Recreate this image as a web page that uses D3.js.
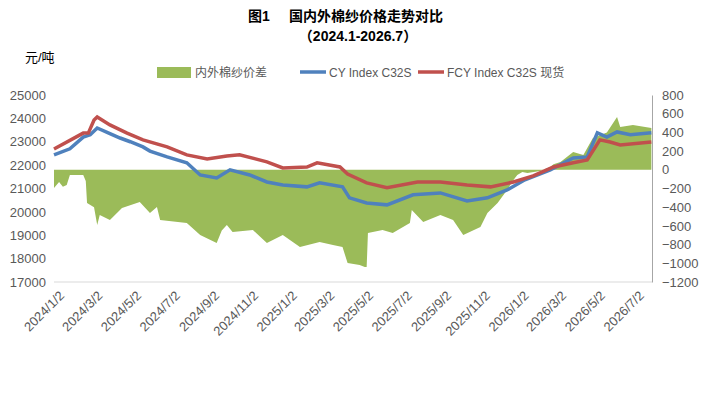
<!DOCTYPE html>
<html><head><meta charset="utf-8">
<script src="https://cdn.jsdelivr.net/npm/d3@7"></script>
<style>body{margin:0;background:#fff;font-family:"Liberation Sans","Noto Sans CJK SC",sans-serif}</style>
</head><body><svg id="c" width="709" height="408"></svg>
<script>
const cyDates=["2024-01-02","2024-01-27","2024-02-17","2024-02-28","2024-03-10","2024-03-30","2024-04-15","2024-05-01","2024-05-21","2024-06-01","2024-06-28","2024-07-29","2024-08-19","2024-09-14","2024-10-05","2024-11-05","2024-12-02","2024-12-27","2025-02-03","2025-02-23","2025-03-31","2025-04-11","2025-05-08","2025-06-09","2025-07-20","2025-09-01","2025-10-13","2025-11-14","2025-12-15","2026-01-12","2026-02-21","2026-03-29","2026-04-20","2026-05-06","2026-05-21","2026-06-06","2026-06-27","2026-07-30"];
const cyVals=[22440,22700,23200,23300,23590,23350,23160,23000,22780,22600,22350,22100,21580,21450,21800,21580,21280,21150,21070,21240,21070,20600,20380,20300,20730,20810,20470,20600,20940,21370,21800,22310,22350,23380,23200,23420,23300,23380];
const fcyDates=["2024-01-02","2024-02-17","2024-02-25","2024-03-05","2024-03-10","2024-03-30","2024-04-26","2024-05-21","2024-06-28","2024-07-29","2024-08-30","2024-09-30","2024-10-20","2024-12-02","2024-12-27","2025-02-03","2025-02-19","2025-03-27","2025-04-08","2025-05-08","2025-06-09","2025-07-27","2025-09-01","2025-10-13","2025-11-19","2025-12-25","2026-01-25","2026-02-26","2026-03-29","2026-04-20","2026-05-10","2026-05-26","2026-06-11","2026-07-30"];
const fcyVals=[22690,23370,23370,23930,24060,23720,23370,23080,22780,22440,22260,22390,22440,22140,21880,21920,22100,21920,21620,21240,21030,21280,21280,21150,21070,21280,21540,21920,22100,22220,23080,22990,22860,22990];
const diffDates=["2024-01-02","2024-01-10","2024-01-16","2024-01-22","2024-01-27","2024-02-17","2024-02-21","2024-02-23","2024-03-05","2024-03-10","2024-03-14","2024-03-30","2024-04-18","2024-05-16","2024-06-01","2024-06-12","2024-06-17","2024-07-29","2024-08-19","2024-09-14","2024-09-22","2024-09-30","2024-10-09","2024-11-10","2024-12-02","2024-12-27","2025-01-23","2025-02-23","2025-03-16","2025-03-31","2025-04-08","2025-04-27","2025-05-05","2025-05-08","2025-05-10","2025-06-02","2025-06-18","2025-07-15","2025-07-18","2025-08-05","2025-09-01","2025-09-21","2025-10-07","2025-11-03","2025-11-14","2025-11-30","2025-12-15","2025-12-25","2025-12-31","2026-01-08","2026-01-16","2026-02-05","2026-02-21","2026-02-26","2026-03-09","2026-03-29","2026-04-14","2026-04-29","2026-05-21","2026-06-06","2026-06-11","2026-07-01","2026-07-30"];
const diffVals=[-195,-130,-180,-163,-56,-56,-120,-356,-400,-591,-484,-538,-409,-345,-463,-398,-538,-570,-698,-784,-650,-591,-666,-645,-784,-698,-826,-773,-805,-826,-998,-1019,-1040,-1040,-677,-645,-677,-570,-431,-559,-484,-538,-698,-612,-463,-356,-216,-109,-56,-24,-35,-13,30,60,83,190,158,340,400,565,458,479,447];
const leftTicks=[17000,18000,19000,20000,21000,22000,23000,24000,25000];
const rightTicks=[-1200,-1000,-800,-600,-400,-200,0,200,400,600,800];
const xTickLabels=["2024/1/2","2024/3/2","2024/5/2","2024/7/2","2024/9/2","2024/11/2","2025/1/2","2025/3/2","2025/5/2","2025/7/2","2025/9/2","2025/11/2","2026/1/2","2026/3/2","2026/5/2","2026/7/2"];

const p=d3.timeParse("%Y-%m-%d"), p2=d3.timeParse("%Y/%m/%d");
const svg=d3.select("#c");
const L=54,R=652,T=95,B=282;
const x=d3.scaleTime().domain([p("2024-01-02"),p("2026-07-31")]).range([L,R]);
const yL=d3.scaleLinear().domain([17000,25000]).range([B,T]);
const yR=d3.scaleLinear().domain([-1200,800]).range([B,T]);
const grey="#595959";
svg.append("text").attr("x",248).attr("y",21).attr("font-weight","bold").attr("font-size",14).text("图1");
svg.append("text").attr("x",289).attr("y",21).attr("font-weight","bold").attr("font-size",14).text("国内外棉纱价格走势对比");
svg.append("text").attr("x",358).attr("y",41).attr("text-anchor","middle").attr("font-weight","bold").attr("font-size",14).text("（2024.1-2026.7）");
svg.append("text").attr("x",25).attr("y",62).attr("font-size",13).text("元/吨");
const diff=diffDates.map((d,i)=>({d:p(d),v:diffVals[i]}));
svg.append("path").datum(diff).attr("fill","#9bbb59").attr("d",d3.area().x(d=>x(d.d)).y0(yR(0)).y1(d=>yR(d.v)));
const line=d3.line().x(d=>x(d.d)).y(d=>yL(d.v));
const cy=cyDates.map((d,i)=>({d:p(d),v:cyVals[i]})), fcy=fcyDates.map((d,i)=>({d:p(d),v:fcyVals[i]}));
svg.append("path").datum(cy).attr("fill","none").attr("stroke","#4f81bd").attr("stroke-width",3.5).attr("d",line);
svg.append("path").datum(fcy).attr("fill","none").attr("stroke","#c0504d").attr("stroke-width",3.5).attr("d",line);
const la=svg.append("g").attr("transform",`translate(${L},0)`).call(d3.axisLeft(yL).tickValues(leftTicks).tickSize(0).tickPadding(8).tickFormat(d3.format("d")));
la.select(".domain").remove();
const ra=svg.append("g").attr("transform",`translate(${R},0)`).call(d3.axisRight(yR).tickValues(rightTicks).tickSize(0).tickPadding(10).tickFormat(d3.format("d")));
ra.select(".domain").attr("stroke","#a6a6a6");
svg.append("line").attr("x1",L).attr("x2",R).attr("y1",B).attr("y2",B).attr("stroke","#d9d9d9");
const xa=svg.append("g").attr("transform",`translate(0,${B})`).call(d3.axisBottom(x).tickValues(xTickLabels.map(s=>p2(s))).tickSize(0).tickPadding(6).tickFormat((d,i)=>xTickLabels[i]));
xa.select(".domain").remove();
xa.selectAll("text").attr("text-anchor","end").attr("transform","rotate(-45)").attr("dx","-0.2em").attr("dy","0.9em");
svg.selectAll(".tick text").attr("fill",grey).attr("font-size",13).attr("font-family","Liberation Sans, sans-serif");
const lg=svg.append("g").attr("font-size",12).attr("fill",grey);
lg.append("rect").attr("x",157).attr("y",67).attr("width",34).attr("height",11).attr("fill","#9bbb59");
lg.append("text").attr("x",195).attr("y",77).attr("fill",grey).text("内外棉纱价差");
lg.append("line").attr("x1",300).attr("x2",326).attr("y1",72).attr("y2",72).attr("stroke","#4f81bd").attr("stroke-width",3.5);
lg.append("text").attr("x",329).attr("y",77).attr("fill",grey).text("CY Index C32S");
lg.append("line").attr("x1",418).attr("x2",444).attr("y1",72).attr("y2",72).attr("stroke","#c0504d").attr("stroke-width",3.5);
lg.append("text").attr("x",447).attr("y",77).attr("fill",grey).text("FCY Index C32S 现货");
</script></body></html>
